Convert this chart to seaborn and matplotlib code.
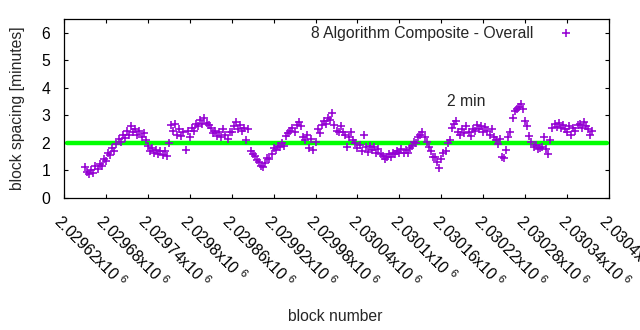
import numpy as np
import pandas as pd
import matplotlib
matplotlib.use("Agg")
import matplotlib.pyplot as plt
import seaborn as sns

# ---- data ----
block_start = 2029650
block_step = 3
spacing_minutes = [
    1.12, 0.95, 0.88, 1.02, 0.92, 1.15, 1.05, 1.25, 1.18, 1.4,
    1.35, 1.62, 1.55, 1.8, 1.72, 1.95, 2.15, 2.05, 2.3, 2.18,
    2.45, 2.3, 2.6, 2.4, 2.5, 2.3, 2.42, 2.2, 2.35, 2.12,
    1.9, 1.72, 1.8, 1.62, 1.75, 1.6, 1.72, 1.55, 1.7, 1.52,
    2.0, 2.65, 2.45, 2.7, 2.3, 2.5, 2.25, 2.4, 1.75, 2.45,
    2.2, 2.55, 2.45, 2.7, 2.6, 2.85, 2.7, 2.9, 2.72, 2.65,
    2.55, 2.35, 2.45, 2.25, 2.38, 2.2, 2.5, 2.3, 2.15, 2.38,
    2.4, 2.6, 2.75, 2.5, 2.65, 2.45, 2.55, 2.1, 2.5, 1.72,
    1.6, 1.52, 1.38, 1.32, 1.18, 1.12, 1.28, 1.45, 1.42,
    1.6, 1.82, 1.75, 1.9, 1.85, 1.98, 1.88, 2.25, 2.35, 2.45,
    2.55, 2.4, 2.65, 2.75, 2.6, 2.2, 2.1, 2.3, 1.8, 2.15,
    1.75, 2.05, 2.5, 2.35, 2.65, 2.8, 2.7, 2.92, 2.85, 3.08,
    2.65, 2.45, 2.4, 2.6, 2.4, 2.3, 1.85, 2.2, 2.4, 2.1,
    2.0, 1.82, 1.92, 1.72, 2.3, 1.85, 1.68, 1.9, 1.75, 1.85,
    1.65, 1.78, 1.6, 1.52, 1.42, 1.5, 1.58, 1.48, 1.65, 1.6,
    1.72, 1.62, 1.78, 1.65, 1.75, 1.62, 1.82, 1.88, 2.02, 1.98,
    2.2, 2.3, 2.38, 2.22, 2.05, 1.85, 1.72, 1.5, 1.48, 1.3,
    1.1, 1.42, 1.62, 1.72, 1.98, 2.12, 2.55, 2.68, 2.78,
    2.4, 2.28, 2.5, 2.35, 2.62, 2.38, 2.25, 2.52, 2.45, 2.65,
    2.5, 2.62, 2.4, 2.58, 2.45, 2.3, 2.52, 2.2, 2.1, 1.95,
    2.15, 1.5, 1.45, 1.75, 2.2, 2.4, 2.9, 3.15, 3.25, 3.3,
    3.4, 3.22, 2.8, 2.62, 2.25, 2.05, 1.85, 1.92, 1.78, 1.8,
    1.85, 2.2, 1.78, 1.6, 2.1, 2.55, 2.68, 2.58, 2.72,
    2.55, 2.65, 2.5, 2.4, 2.6, 2.3, 2.55, 2.45, 2.65, 2.7,
    2.55, 2.75, 2.6, 2.5, 2.3, 2.45,
]
target_minutes = 2
series_label = "8 Algorithm Composite - Overall"
annotation_text = "2 min"
annotation_block = 2030168
annotation_value = 3.5
x_min, x_max, x_step = 2029620, 2030400, 60
y_min, y_max = 0, 6.5
y_ticks = [0, 1, 2, 3, 4, 5, 6]

blocks = np.arange(block_start, block_start + block_step * len(spacing_minutes), block_step)
df = pd.DataFrame({"block": blocks, "spacing": spacing_minutes})

# ---- style ----
sns.set_style("ticks")
plt.rcParams["font.family"] = ["Liberation Sans", "DejaVu Sans"]
plt.rcParams["mathtext.fontset"] = "custom"
plt.rcParams["mathtext.rm"] = "Liberation Sans"
plt.rcParams["mathtext.it"] = "Liberation Sans"
fs = 11.3

fig = plt.figure(figsize=(6.4, 3.3), dpi=100)
ax = fig.add_axes([64 / 640, 1 - 198 / 330, 545 / 640, 179 / 330])

ax.axhline(target_minutes, color="#00ff00", lw=3.2, zorder=1,
           xmin=0.005, xmax=0.997)
sns.scatterplot(data=df, x="block", y="spacing", marker="+", s=38,
                color="#9400d3", linewidth=1.15, ax=ax, zorder=2,
                label=series_label)

ax.set_xlim(x_min, x_max)
ax.set_ylim(y_min, y_max)
ax.set_yticks(y_ticks)
xt = np.arange(x_min, x_max + 1, x_step)
ax.set_xticks(xt)
ax.set_xticklabels([f"{v/1e6:.6g}x10 $^{{6}}$" for v in xt],
                   rotation=-45, ha="left", va="top", rotation_mode="anchor",
                   fontsize=fs)
ax.tick_params(axis="x", direction="in", length=3, width=0.8, pad=10,
               top=True, colors="black")
ax.tick_params(axis="y", direction="in", length=3, width=0.8, pad=10,
               right=True, labelsize=fs, colors="black")
for sp in ax.spines.values():
    sp.set_visible(True)
    sp.set_color("black")
    sp.set_linewidth(0.9)

ax.set_xlabel("block number", fontsize=fs)
ax.set_ylabel("block spacing [minutes]", fontsize=fs)
ax.xaxis.set_label_coords(0.497, -0.622)
ax.yaxis.set_label_coords(-0.072, 0.5)

ax.text(annotation_block, annotation_value, annotation_text, fontsize=fs,
        va="center", ha="left")

leg = ax.legend(loc="upper right", bbox_to_anchor=(0.97, 1.025), frameon=False,
                markerfirst=False, fontsize=fs, handletextpad=1.1,
                borderaxespad=0.3)

fig.savefig("out.png", dpi=100)
